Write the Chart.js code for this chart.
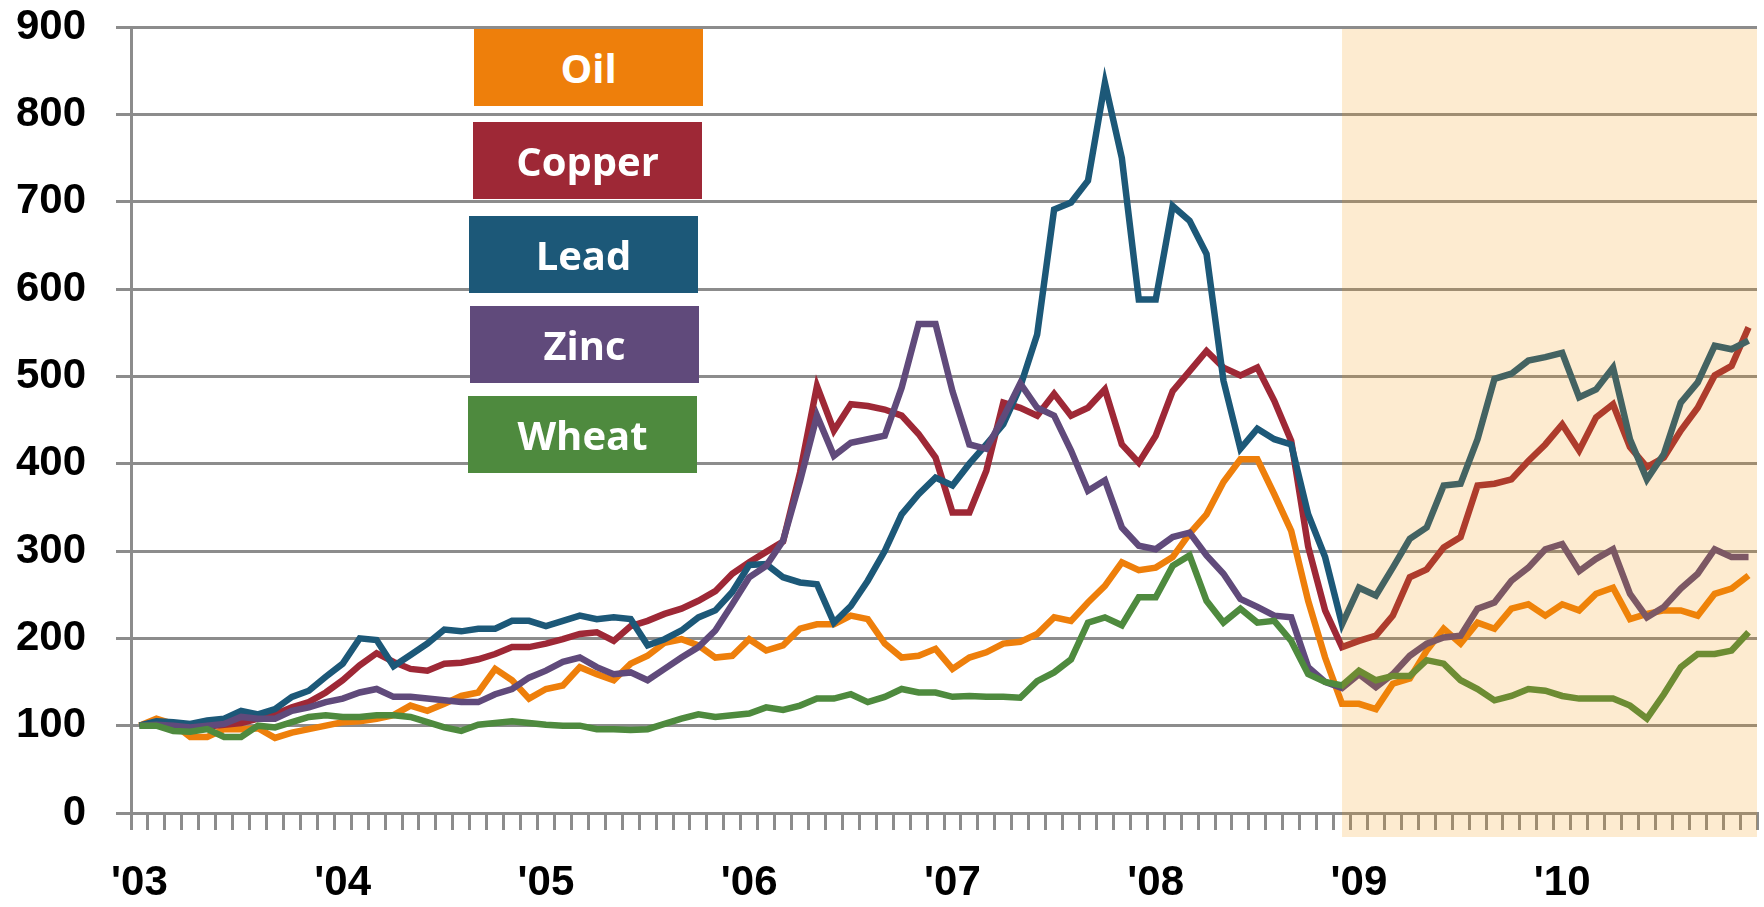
<!DOCTYPE html>
<html>
<head>
<meta charset="utf-8">
<script src="https://cdn.jsdelivr.net/npm/chart.js@4/dist/chart.umd.min.js"></script>
<style>
    body { margin: 0; background: #fff; }
    #wrap { position: relative; width: 1764px; height: 907px; }
    .legendBox {
        position: absolute;
        width: 229px;
        height: 77px;
        line-height: 77px;
        text-align: center;
        color: #fff;
        font-family: 'Open Sans', sans-serif;
        font-weight: 700;
        font-size: 40px;
    }
</style>
</head>
<body>
<div id="wrap">
    <canvas id="commodityChart" width="1764" height="907"></canvas>
</div>
<script>
// monthly index, Jan 2003 = 100
const years = ["'03", "'04", "'05", "'06", "'07", "'08", "'09", "'10"];
const monthNames = ['Jan','Feb','Mar','Apr','May','Jun','Jul','Aug','Sep','Oct','Nov','Dec'];

const seriesNames = ['Oil', 'Copper', 'Lead', 'Zinc', 'Wheat'];
const seriesColors = ['#EE7F0B', '#9E2836', '#1C5878', '#604A7B', '#4E8A3E'];

const oil = [
    100, 108, 102, 87, 87, 96, 96, 97, 86, 92, 96, 100,
    104, 105, 108, 112, 123, 117, 125, 134, 138, 165, 152, 131,
    142, 146, 167, 159, 152, 171, 180, 195, 199, 192, 178, 180,
    199, 186, 192, 211, 216, 216, 226, 222, 194, 178, 180, 188,
    165, 178, 184, 194, 196, 205, 224, 220, 241, 260, 287, 278,
    281, 293, 320, 342, 379, 405, 405, 365, 323, 243, 178, 125,
    125, 119, 148, 154, 186, 211, 194, 218, 211, 234, 239, 226,
    239, 232, 251, 258, 222, 228, 232, 232, 226, 251, 257, 272
];
const copper = [
    100, 104, 100, 98, 99, 101, 103, 108, 113, 121, 127, 138,
    152, 169, 183, 173, 165, 163, 171, 172, 176, 182, 190, 190,
    194, 199, 205, 207, 197, 214, 220, 228, 234, 243, 254, 274,
    287, 299, 311, 390, 489, 438, 468, 466, 462, 455, 434, 407,
    344, 344, 392, 470, 464, 455, 480, 455, 464, 485, 422, 401,
    432, 483, 506, 529, 510, 501, 510, 472, 426, 305, 232, 190,
    197, 203, 226, 270, 279, 304, 316, 375, 377, 382, 403, 422,
    445, 415, 453, 468, 419, 396, 407, 438, 464, 501, 512, 556
];
const lead = [
    100, 105, 104, 102, 106, 108, 117, 113, 119, 133, 140, 156,
    171, 200, 198, 168, 181, 194, 210, 208, 211, 211, 220, 220,
    214, 220, 226, 222, 224, 222, 192, 199, 209, 224, 232, 253,
    284, 285, 270, 264, 262, 218, 237, 266, 300, 342, 365, 384,
    375, 400, 422, 445, 488, 548, 691, 699, 724, 836, 750, 588,
    588, 695, 678, 640, 495, 417, 440, 428, 422, 342, 293, 216,
    258, 249, 281, 314, 327, 375, 377, 428, 497, 503, 518, 522,
    527, 476, 485, 510, 428, 382, 411, 470, 493, 535, 531, 541
];
const zinc = [
    100, 101, 100, 98, 100, 102, 110, 108, 108, 117, 121, 127,
    131, 138, 142, 133, 133, 131, 129, 127, 127, 136, 142, 155,
    163, 173, 178, 167, 159, 161, 152, 165, 178, 190, 209, 239,
    270, 283, 312, 380, 455, 409, 424, 428, 432, 487, 560, 560,
    483, 422, 417, 453, 492, 464, 455, 415, 369, 381, 327, 306,
    302, 316, 321, 295, 274, 245, 236, 226, 224, 167, 150, 143,
    159, 144, 159, 180, 194, 201, 203, 234, 241, 266, 281, 302,
    308, 277, 291, 302, 251, 224, 236, 257, 274, 302, 293, 293
];
const wheat = [
    100, 100, 94, 93, 96, 87, 87, 100, 98, 104, 110, 112,
    110, 110, 112, 112, 110, 104, 98, 94, 101, 103, 105, 103,
    101, 100, 100, 96, 96, 95, 96, 102, 108, 113, 110, 112,
    114, 121, 118, 123, 131, 131, 136, 127, 133, 142, 138, 138,
    133, 134, 133, 133, 132, 151, 161, 176, 218, 224, 215, 247,
    247, 283, 295, 243, 218, 234, 218, 220, 197, 159, 150, 146,
    163, 152, 157, 157, 175, 171, 152, 142, 129, 134, 142, 140,
    134, 131, 131, 131, 123, 108, 136, 167, 182, 182, 186, 207
];

// shaded period starts at Dec '08
const shadeStart = 71;

const months = [];
for (let y = 0; y < years.length; y++) {
    for (let m = 0; m < 12; m++) {
        months.push(monthNames[m] + ' ' + years[y]);
    }
}

const allSeries = [oil, copper, lead, zinc, wheat];
const datasets = allSeries.map((values, i) => ({
    label: seriesNames[i],
    data: values,
    borderColor: seriesColors[i],
    backgroundColor: seriesColors[i],
    borderWidth: 6.5,
    pointRadius: 0,
    fill: false,
    tension: 0,
    order: allSeries.length - i   // wheat drawn on top, like the original
}));

const gridGray = '#8c8c8c';
const tickFont = { family: "'Liberation Sans', Arial, sans-serif", size: 42, weight: 'bold' };

// translucent orange box over the last two years
const shadePlugin = {
    id: 'shade',
    afterDraw(chart) {
        const ctx = chart.ctx;
        const x = chart.scales.x;
        const y = chart.scales.y;
        const left = x.getPixelForValue(shadeStart);
        const right = chart.chartArea.right;
        const top = y.getPixelForValue(900) + 2;
        const bottom = y.getPixelForValue(0) + 24;
        ctx.save();
        ctx.fillStyle = 'rgba(245, 148, 4, 0.19)';
        ctx.fillRect(left, top, right - left, bottom - top);
        ctx.restore();
    }
};

new Chart(document.getElementById('commodityChart'), {
    type: 'line',
    data: { labels: months, datasets: datasets },
    options: {
        responsive: false,
        animation: false,
        layout: { padding: { top: 27, right: 7, left: 0, bottom: 0 } },
        plugins: {
            legend: { display: false },
            tooltip: { enabled: false }
        },
        scales: {
            x: {
                offset: true,
                grid: {
                    offset: true,
                    drawOnChartArea: false,
                    drawTicks: true,
                    tickLength: 17,
                    color: gridGray,
                    lineWidth: 3
                },
                border: { color: gridGray, width: 3 },
                ticks: {
                    autoSkip: false,
                    maxRotation: 0,
                    padding: 28,
                    color: '#000',
                    font: tickFont,
                    callback: (val, idx) => (idx % 12 === 0 ? years[idx / 12] : '')
                },
                afterFit: scale => {
                    scale.height = 94;
                    scale.paddingLeft = 0;
                    scale.paddingRight = 0;
                }
            },
            y: {
                min: 0,
                max: 900,
                ticks: {
                    stepSize: 100,
                    padding: 30,
                    color: '#000',
                    font: tickFont
                },
                grid: {
                    color: gridGray,
                    lineWidth: 3,
                    tickLength: 15
                },
                border: { color: gridGray, width: 3 },
                afterFit: scale => {
                    scale.width = 131;
                    scale.paddingTop = 0;
                    scale.paddingBottom = 0;
                }
            }
        }
    },
    plugins: [shadePlugin]
});

// legend boxes, stacked in the top-left of the plot
const legendPos = [[474, 29], [473, 122], [469, 216], [470, 306], [468, 396]];
const wrap = document.getElementById('wrap');
seriesNames.forEach((name, i) => {
    const box = document.createElement('div');
    box.className = 'legendBox';
    box.style.left = legendPos[i][0] + 'px';
    box.style.top = legendPos[i][1] + 'px';
    box.style.background = seriesColors[i];
    box.textContent = name;
    wrap.appendChild(box);
});
</script>
</body>
</html>
